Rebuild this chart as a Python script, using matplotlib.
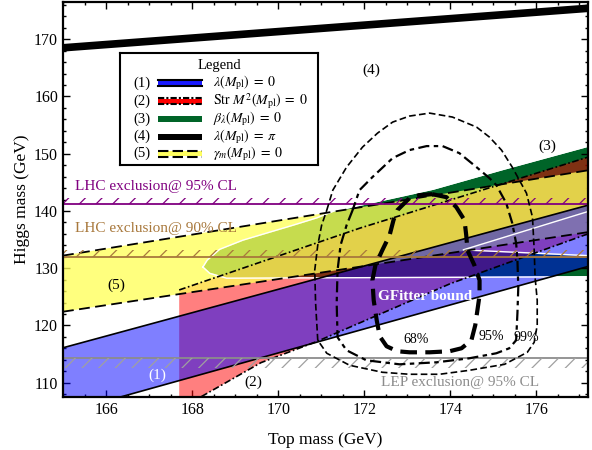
import matplotlib
matplotlib.use("Agg")
import matplotlib.pyplot as plt
from matplotlib.ticker import MultipleLocator
import numpy as np

plt.rcParams['font.family'] = ['Liberation Serif', 'DejaVu Serif']
plt.rcParams['mathtext.fontset'] = 'stix'
plt.rcParams['hatch.linewidth'] = 0.9

### DATA (top mass / Higgs mass in GeV) ###
mt_range = [165.0, 177.2]
mh_range = [107.5, 176.5]

# (1) lambda(Mpl) = 0 band
band1_mt = [165.0, 177.2]
band1_lo = [104.7, 130.3]
band1_hi = [116.1, 141.0]

# (5) gamma_m(Mpl) = 0 band
band5_mt = [165.0, 177.2]
band5_lo = [122.4, 136.3]
band5_hi = [132.2, 147.1]

# (2) Str M^2(Mpl) = 0 band, starts at mt = 167.7
band2_hi_mt = [167.7, 171.9, 177.2]
band2_hi = [126.2, 137.0, 149.4]
band2_lo_mt = [167.7, 168.2, 169.6, 170.9, 174.0, 177.2]
band2_lo = [105.0, 107.5, 113.5, 117.2, 127.3, 136.0]

# (3) beta_lambda(Mpl) = 0 region (outline incl. notch at the right)
band3_mt = [168.25, 168.35, 168.64, 169.18, 170.34, 170.9, 171.3, 173.6, 175.2, 177.2,
            177.2, 174.3, 177.2, 177.2, 168.8, 168.41]
band3_mh = [130.2, 131.4, 133.3, 134.9, 137.5, 138.8, 140.0, 143.8, 147.2, 151.3,
            139.9, 133.2, 132.2, 128.5, 128.25, 129.1]

# (4) lambda(Mpl) = pi
line4_mt = [165.0, 177.2]
line4_mh = [168.5, 175.4]

# exclusion limits
lhc95 = 141.2
lhc90 = 131.9
lep95 = 114.3

# fit contours
c68_mt = [173.58, 173.91, 174.14, 174.33, 174.37, 174.40, 174.56, 174.68, 174.68, 174.63,
          174.58, 174.49, 174.26, 173.98, 173.52, 173.05, 172.77, 172.52, 172.36, 172.29,
          172.22, 172.19, 172.26, 172.42, 172.59, 172.68, 172.77, 173.05, 173.28, 173.58]
c68_mh = [142.93, 142.41, 140.66, 138.39, 135.77, 133.14, 130.52, 127.90, 125.28, 122.65,
          120.03, 117.41, 116.01, 115.49, 115.31, 115.31, 115.49, 116.36, 118.11, 120.91,
          124.40, 127.90, 130.52, 133.14, 135.77, 138.39, 140.14, 142.23, 142.76, 142.93]

c95_mt = [171.73, 171.59, 171.45, 171.38, 171.36, 171.38, 171.59, 172.05, 172.82, 173.68,
          174.44, 175.07, 175.37, 175.53, 175.56, 175.58, 175.56, 175.53, 175.44, 175.30,
          175.07, 174.91, 174.61, 174.21, 173.82, 173.45, 173.05, 172.66, 172.19, 171.89, 171.73]
c95_mh = [140.14, 137.51, 134.02, 129.65, 123.88, 117.93, 115.66, 113.91, 113.21, 113.56,
          114.26, 115.14, 116.01, 117.41, 122.13, 126.67, 131.39, 134.37, 137.86, 141.36,
          144.51, 145.73, 147.65, 150.10, 151.33, 151.33, 150.63, 149.23, 145.91, 143.63, 140.14]

c99_mt = [171.13, 171.27, 171.59, 171.96, 172.31, 172.66, 173.05, 173.52, 174.05, 174.61,
          174.91, 175.19, 175.44, 175.77, 175.91, 175.95, 175.97, 176.02, 176.02, 175.95,
          175.79, 175.26, 174.44, 173.75, 173.05, 172.42, 171.66, 171.13, 170.92, 170.87,
          170.85, 170.92, 171.01, 171.13]
c99_mh = [140.14, 143.63, 147.65, 151.15, 153.60, 155.52, 156.57, 157.09, 156.40, 154.65,
          152.90, 150.63, 147.65, 143.11, 138.91, 133.14, 128.42, 124.40, 120.03, 117.06,
          115.31, 113.21, 112.16, 111.47, 111.47, 111.82, 113.04, 115.14, 117.41, 123.88,
          129.65, 134.02, 137.51, 140.14]

legend_tags = ["(1)", "(2)", "(3)", "(4)", "(5)"]
legend_texts = [r"$\lambda(M_{\rm pl})\;=\;0$",
                r"${\rm Str}\ M^2(M_{\rm pl})\;=\;0$",
                r"$\beta_\lambda(M_{\rm pl})\;=\;0$",
                r"$\lambda(M_{\rm pl})\;=\;\pi$",
                r"$\gamma_m(M_{\rm pl})\;=\;0$"]

### FIGURE ###
fig = plt.figure(figsize=(5.92, 4.5), dpi=100)
ax = fig.add_axes([63/592, 53/450, 525/592, 395/450])

# colours
c_green = (0, 100/255, 40/255)
c_red = (1, 0, 0)
c_yellow = (1, 1, 90/255)
c_blue = (0, 0, 1)

# filled bands (order matters for the overlap colours)
ax.fill(band3_mt, band3_mh, facecolor=c_green, edgecolor='white', lw=1.0, zorder=1)
ax.fill(band2_hi_mt + band2_lo_mt[::-1], band2_hi + band2_lo[::-1],
        facecolor=c_red, alpha=0.5, lw=0, zorder=2)
ax.fill_between(band5_mt, band5_lo, band5_hi, facecolor=c_yellow, alpha=0.78, lw=0, zorder=3)
ax.fill_between(band1_mt, band1_lo, band1_hi, facecolor=c_blue, alpha=0.5, lw=0, zorder=4)
# white outline of region (3) drawn again above the other fills
ax.plot(band3_mt + band3_mt[:1], band3_mh + band3_mh[:1], color='white', lw=1.0, zorder=5)

# band edges
ax.plot(band1_mt, band1_lo, 'k-', lw=1.2, zorder=6)
ax.plot(band1_mt, band1_hi, 'k-', lw=1.2, zorder=6)
ax.plot(band2_hi_mt, band2_hi, color='k', lw=1.2, ls=(0, (4, 1.5, 1, 1.5)), zorder=6)
ax.plot(band2_lo_mt, band2_lo, color='k', lw=1.2, ls=(0, (4, 1.5, 1, 1.5)), zorder=6)
ax.plot(band5_mt, band5_lo, color='k', lw=1.3, ls=(0, (6, 3)), zorder=6)
ax.plot(band5_mt, band5_hi, color='k', lw=1.3, ls=(0, (6, 3)), zorder=6)
ax.plot(line4_mt, line4_mh, 'k-', lw=5.5, solid_capstyle='butt', zorder=6)

# exclusion lines with hatching
ax.axhline(lhc95, color='purple', lw=1.3, zorder=7)
ax.fill_between(mt_range, lhc95, lhc95 + 1.1, facecolor='none', edgecolor='purple',
                hatch='//', lw=0, zorder=7)
ax.axhline(lhc90, color='#a8783c', lw=1.3, zorder=7)
ax.fill_between(mt_range, lhc90, lhc90 + 1.2, facecolor='none', edgecolor='#a8783c',
                hatch='//', lw=0, zorder=7)
ax.axhline(lep95, color='#8c8c8c', lw=1.3, zorder=7)
ax.fill_between(mt_range, lep95 - 1.8, lep95, facecolor='none', edgecolor='#a0a0a0',
                hatch='//', lw=0, zorder=7)

# contours
ax.plot(c68_mt, c68_mh, color='k', lw=3.0, ls=(0, (4, 2)), zorder=8)
ax.plot(c95_mt, c95_mh, color='k', lw=1.6, ls=(0, (5, 2, 2, 2)), zorder=8)
ax.plot(c99_mt, c99_mh, color='k', lw=1.2, ls=(0, (4, 2)), zorder=8)

# annotations
fs = 11
ax.text(172.17, 164.6, "(4)", fontsize=fs, ha='center', va='center', zorder=9)
ax.text(176.25, 151.3, "(3)", fontsize=fs, ha='center', va='center', zorder=9)
ax.text(166.25, 127.0, "(5)", fontsize=fs, ha='center', va='center', zorder=9)
ax.text(167.2, 111.3, "(1)", fontsize=fs, ha='center', va='center', color='white', zorder=9)
ax.text(169.42, 110.1, "(2)", fontsize=fs, ha='center', va='center', zorder=9)
ax.text(173.21, 117.6, "68%", fontsize=10, ha='center', va='center', zorder=9)
ax.text(174.95, 118.1, "95%", fontsize=10, ha='center', va='center', zorder=9)
ax.text(175.77, 117.9, "99%", fontsize=10, ha='center', va='center', zorder=9)
ax.text(173.41, 125.1, "GFitter bound", fontsize=11, ha='center', va='center',
        color='white', fontweight='bold', zorder=9)
ax.text(165.28, 144.3, "LHC exclusion@ 95% CL", fontsize=fs, color='purple', va='center', zorder=9)
ax.text(165.28, 137.0, "LHC exclusion@ 90% CL", fontsize=fs, color='#a8783c', va='center', zorder=9)
ax.text(172.4, 110.1, "LEP exclusion@ 95% CL", fontsize=fs, color='#8c8c8c', va='center', zorder=9)

# axes formatting
ax.set_xlim(mt_range)
ax.set_ylim(mh_range)
ax.xaxis.set_major_locator(MultipleLocator(2))
ax.xaxis.set_minor_locator(MultipleLocator(0.5))
ax.yaxis.set_major_locator(MultipleLocator(10))
ax.yaxis.set_minor_locator(MultipleLocator(2))
ax.tick_params(which='both', direction='in', top=True, right=True, labelsize=11.5, width=1.0)
ax.tick_params(which='major', length=5)
ax.tick_params(which='minor', length=2.5)
for s in ax.spines.values():
    s.set_linewidth(1.6)
    s.set_zorder(10)
ax.set_xlabel("Top mass (GeV)", fontsize=12.5, labelpad=10)
ax.set_ylabel("Higgs mass (GeV)", fontsize=12.5, labelpad=3)

# legend box
lax = fig.add_axes([120/592, (450-165)/450, 198/592, 112/450])
lax.set_xlim(0, 198)
lax.set_ylim(112, 0)
lax.set_xticks([])
lax.set_yticks([])
for s in lax.spines.values():
    s.set_linewidth(1.5)
lax.text(99, 12, "Legend", fontsize=10.5, ha='center', va='center')
rows = [30, 48, 66, 83.5, 100.5]
sx = [38, 82]
for i, y in enumerate(rows):
    lax.text(22, y, legend_tags[i], fontsize=10.5, ha='center', va='center')
    lax.text(93, y, legend_texts[i], fontsize=10, ha='left', va='center')
lax.fill_between(sx, rows[0] - 2.5, rows[0] + 2.5, color='#1a1aff', lw=0)
lax.plot(sx, [rows[0] - 3, rows[0] - 3], 'k-', lw=1.5)
lax.plot(sx, [rows[0] + 3, rows[0] + 3], 'k-', lw=1.5)
lax.fill_between(sx, rows[1] - 2.5, rows[1] + 2.5, color='#ff0000', lw=0)
lax.plot(sx, [rows[1] - 3, rows[1] - 3], 'k', lw=1.5, ls=(0, (3, 1, 1, 1)))
lax.plot(sx, [rows[1] + 3, rows[1] + 3], 'k', lw=1.5, ls=(0, (3, 1, 1, 1)))
lax.fill_between(sx, rows[2] - 3, rows[2] + 3, color=c_green, lw=0)
lax.fill_between(sx, rows[3] - 3, rows[3] + 3, color='k', lw=0)
lax.fill_between(sx, rows[4] - 2.5, rows[4] + 2.5, color='#ffff60', lw=0)
lax.plot(sx, [rows[4] - 3, rows[4] - 3], 'k', lw=1.5, ls=(0, (5, 2)))
lax.plot(sx, [rows[4] + 3, rows[4] + 3], 'k', lw=1.5, ls=(0, (5, 2)))

fig.savefig("out.png", dpi=100)
